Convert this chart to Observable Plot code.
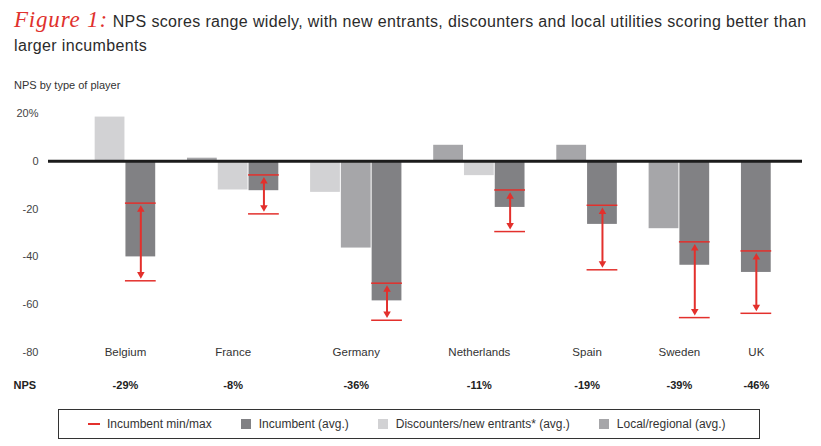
<!DOCTYPE html>
<html><head><meta charset="utf-8">
<script src="https://cdn.jsdelivr.net/npm/d3@7"></script>
<script src="https://cdn.jsdelivr.net/npm/@observablehq/plot@0.6"></script>
<style>
body{margin:0;background:#fff;font-family:"Liberation Sans",Arial,sans-serif;color:#2a2a2a;width:821px;overflow:hidden}
#title{padding:8px 0 0 14px;font-size:16px;letter-spacing:0.35px;line-height:24px;white-space:nowrap;color:#2b2b2b;height:48px}
#title .fig{font-family:"Liberation Serif",serif;font-style:italic;color:#e0312d;font-size:23px;letter-spacing:0.8px;line-height:24px}
#sub{margin-top:22px;padding-left:14px;font-size:11px;line-height:14px;color:#333}
#chart{height:310px}
#legend{box-sizing:border-box;margin:7px 0 0 58px;width:702px;height:30px;border:1px solid #333;display:flex;align-items:center;padding-left:29px;font-size:12px;color:#333;white-space:nowrap}
#legend .it{display:flex;align-items:center;margin-right:29px;white-space:nowrap}
#legend .sw{width:10px;height:10px;margin-right:8px;flex:none}
#legend .ln{width:12px;height:2px;margin-right:7px;flex:none}
</style></head><body>
<div id="title"><span class="fig">Figure 1:</span> NPS scores range widely, with new entrants, discounters and local utilities scoring better than<br>larger incumbents</div>
<div id="sub">NPS by type of player</div>
<div id="chart"></div>
<div id="legend"></div>
<script>
const countries = ["Belgium","France","Germany","Netherlands","Spain","Sweden","UK"];
const npsOverall = ["-29%","-8%","-36%","-11%","-19%","-39%","-46%"];
const barTypes = [["disc","inc"],["local","disc","inc"],["disc","local","inc"],["local","disc","inc"],["local","inc"],["local","inc"],["inc"]];
const barValues = [[18.5,-40],[1.3,-12,-12.3],[-13,-36.3,-58.4],[6.7,-6,-19.3],[6.7,-26.4],[-28.2,-43.5],[-46.5]];
const incumbentMax = [-17.5,-5.7,-51,-12,-18.4,-33.7,-37.5];
const incumbentMin = [-50,-22,-66.5,-29.4,-45.4,-65.4,-63.6];
const typeKeys = ["inc","disc","local"];
const typeLabels = ["Incumbent (avg.)","Discounters/new entrants* (avg.)","Local/regional (avg.)"];
const typeColors = ["#818184","#d2d2d4","#a6a6a9"];
const redColor = "#e3302c";
const yTicks = [20,0,-20,-40,-60,-80];
const yTickLabels = ["20%","0","-20","-40","-60","-80"];

// build table: each bar gets a slot, one empty slot between country groups
const bars = [], groups = [], incs = [];
let slot = 0;
countries.forEach((c, i) => {
  const start = slot;
  barTypes[i].forEach((t, j) => {
    const b = {country: c, type: t, value: barValues[i][j], slot};
    bars.push(b);
    if (t === "inc") incs.push({...b, max: incumbentMax[i], min: incumbentMin[i]});
    slot++;
  });
  groups.push({country: c, nps: npsOverall[i], center: (start + slot) / 2});
  slot++;
});

const font = '"Liberation Sans", Arial, sans-serif';
const plot = Plot.plot({
  width: 821, height: 310,
  marginTop: 21, marginBottom: 50, marginLeft: 48, marginRight: 19,
  style: {fontFamily: font, fontSize: "11px", color: "#444", background: "#fff"},
  x: {type: "linear", domain: [-1.5, 23], axis: null},
  y: {domain: [-80, 20], ticks: yTicks, tickSize: 0, tickPadding: 10, label: null,
      tickFormat: d => yTickLabels[yTicks.indexOf(d)]},
  color: {domain: typeKeys, range: typeColors},
  marks: [
    Plot.rectY(bars, {x1: "slot", x2: d => d.slot + 1, y: "value", fill: "type", insetLeft: 0.5, insetRight: 0.5}),
    Plot.ruleY([0], {stroke: "#1c1c1c", strokeWidth: 3}),
    Plot.ruleY(incs, {x1: "slot", x2: d => d.slot + 1, y: "max", stroke: redColor, strokeWidth: 1.5}),
    Plot.ruleY(incs, {x1: "slot", x2: d => d.slot + 1, y: "min", stroke: redColor, strokeWidth: 1.5}),
    Plot.ruleX(incs, {x: d => d.slot + 0.5, y1: "max", y2: "min", stroke: redColor, strokeWidth: 2, insetTop: 6, insetBottom: 6}),
    Plot.dot(incs, {x: d => d.slot + 0.5, y: "max", symbol: "triangle", r: 2.8, fill: redColor, stroke: "none", dy: 6.5}),
    Plot.dot(incs, {x: d => d.slot + 0.5, y: "min", symbol: "triangle", r: 2.8, fill: redColor, stroke: "none", rotate: 180, dy: -6.5}),
    Plot.text(groups, {x: "center", text: "country", frameAnchor: "bottom", lineAnchor: "middle", fill: "#333", fontSize: 11.5}),
    Plot.text(groups, {x: "center", text: "nps", frameAnchor: "bottom", lineAnchor: "middle", dy: 33, fill: "#222", fontWeight: "bold", fontSize: 11}),
    Plot.text(["NPS"], {frameAnchor: "bottom-left", textAnchor: "start", lineAnchor: "middle", dx: -35, dy: 33, fill: "#222", fontWeight: "bold", fontSize: 11})
  ]
});
document.getElementById("chart").appendChild(plot);

const legend = document.getElementById("legend");
const items = [{kind: "ln", color: redColor, label: "Incumbent min/max"}]
  .concat(typeKeys.map((k, i) => ({kind: "sw", color: typeColors[i], label: typeLabels[i]})));
items.forEach(it => {
  const d = document.createElement("div"); d.className = "it";
  const s = document.createElement("span"); s.className = it.kind; s.style.background = it.color;
  const t = document.createElement("span"); t.textContent = it.label;
  d.appendChild(s); d.appendChild(t); legend.appendChild(d);
});
</script>
</body></html>
